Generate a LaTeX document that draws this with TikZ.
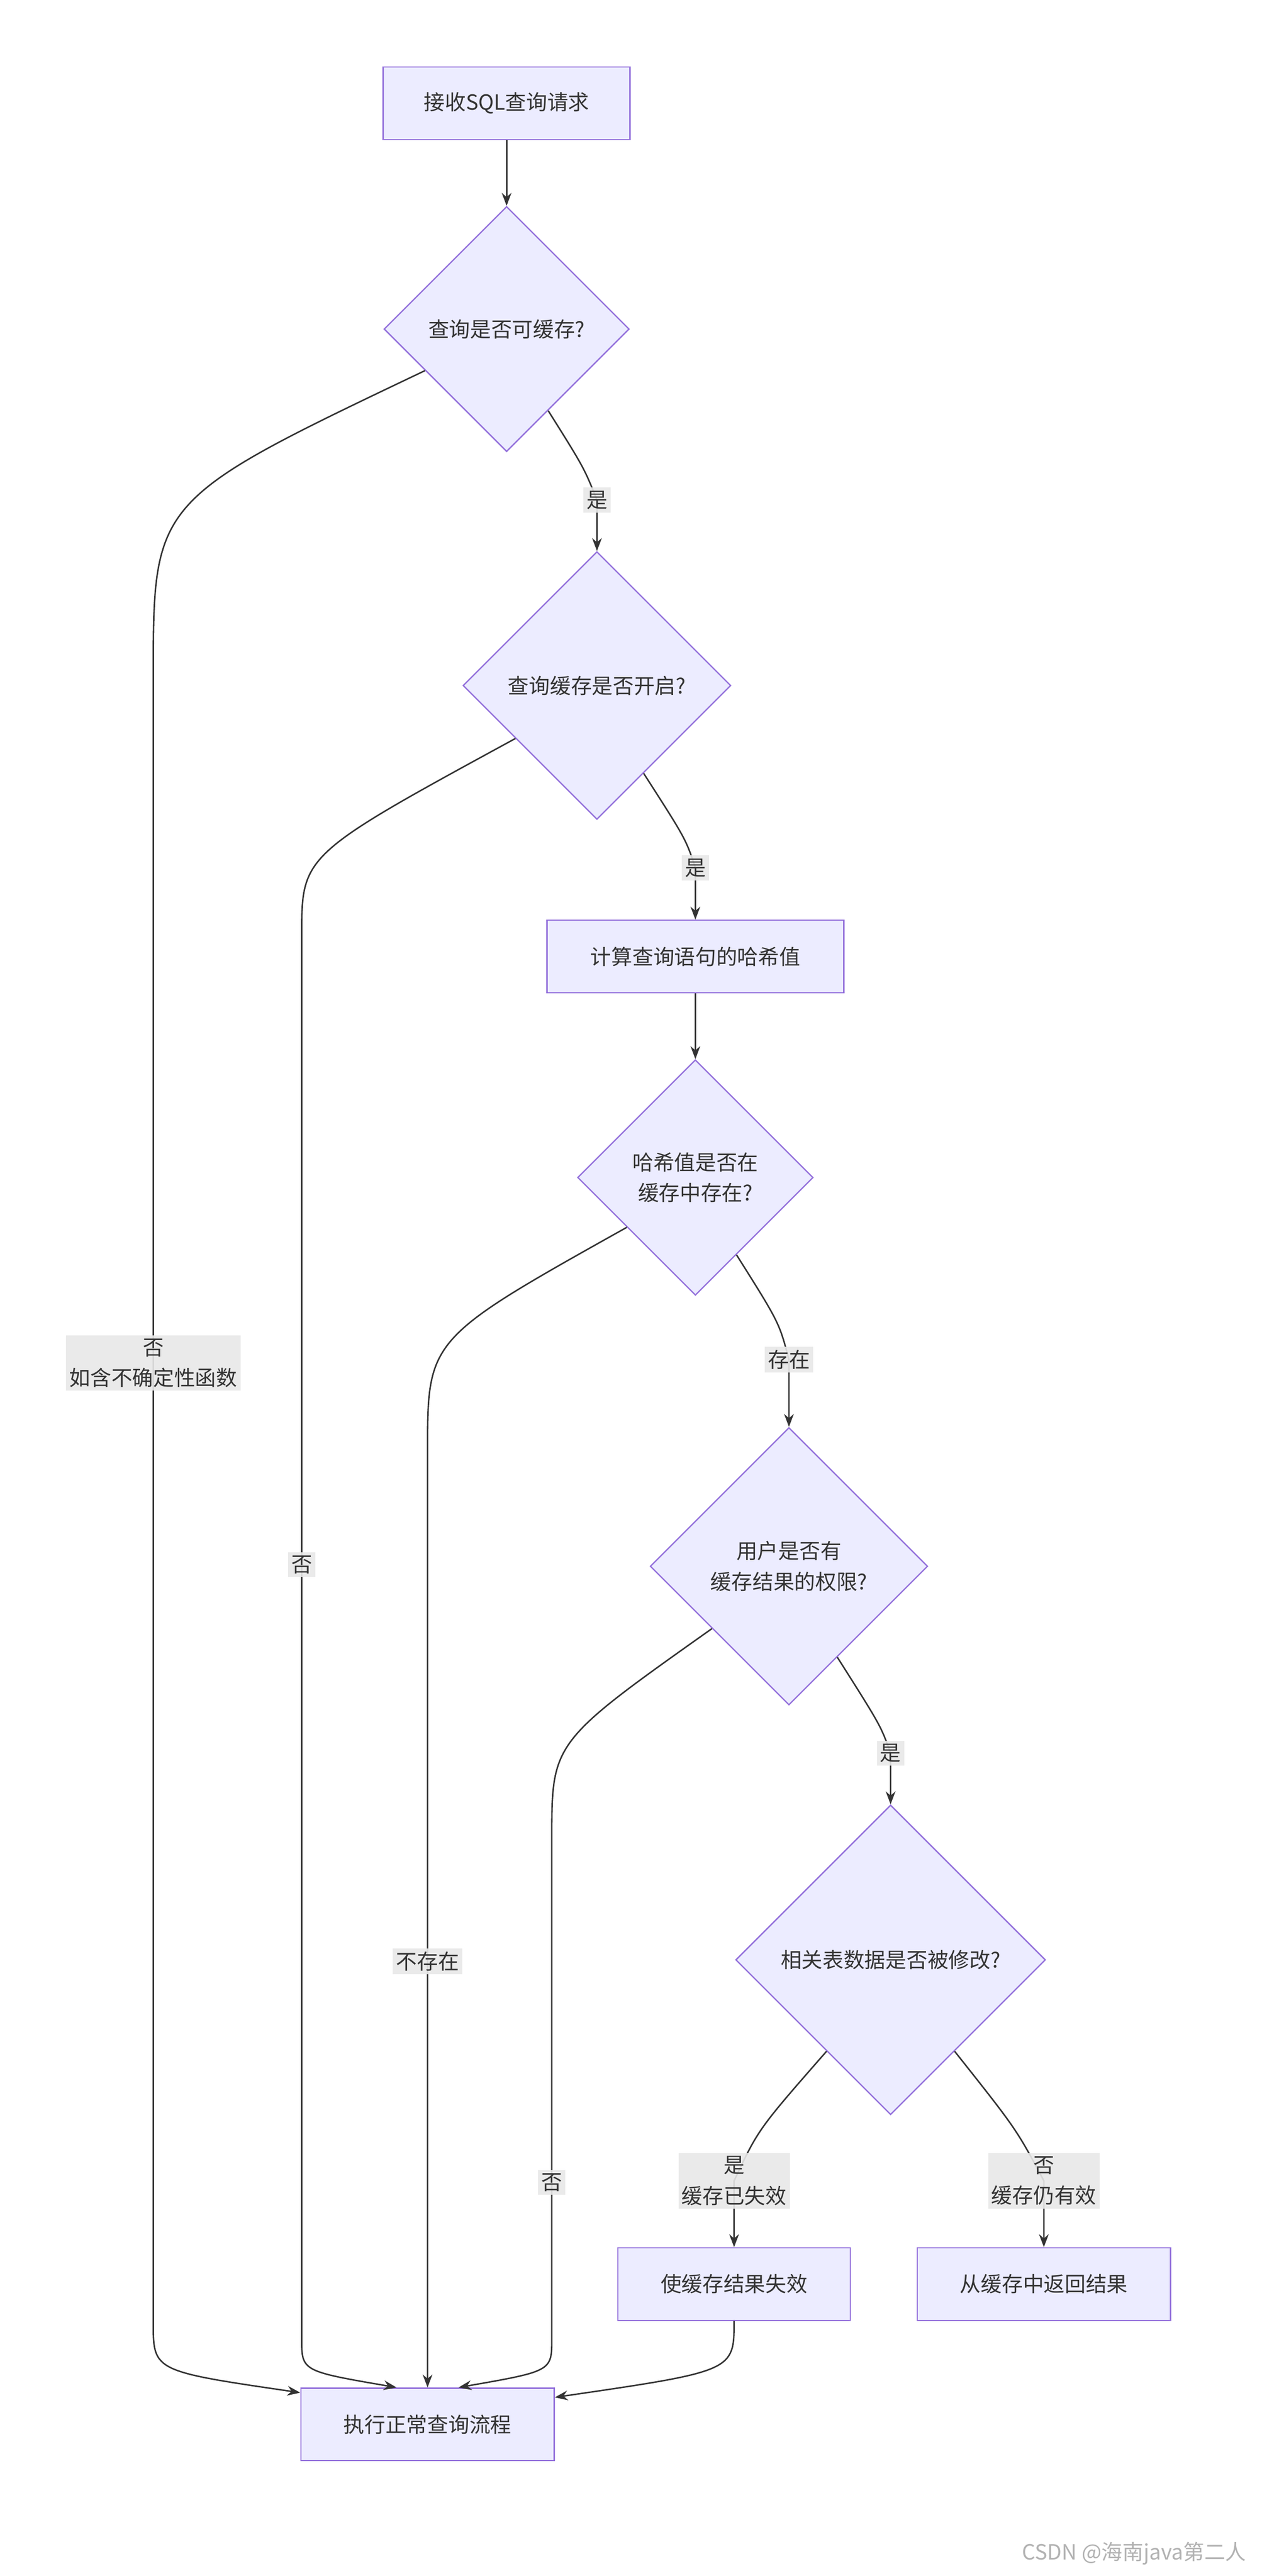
\documentclass[tikz,border=0pt]{standalone}
\usepackage{fontspec}
\setmainfont{Noto Sans CJK SC}
\usetikzlibrary{shapes.geometric,arrows.meta}
\definecolor{nfill}{HTML}{ECECFF}
\definecolor{nline}{HTML}{9370DB}
\definecolor{eline}{HTML}{333333}
\definecolor{lbg}{HTML}{E8E8E8}
\begin{document}
\begin{tikzpicture}[x=1pt,y=-1pt,
  every node/.style={font=\fontsize{13}{19}\selectfont, text=eline},
  box/.style={draw=nline, fill=nfill, line width=0.8pt, rectangle, inner sep=0pt},
  dia/.style={draw=nline, fill=nfill, line width=0.8pt, diamond, inner sep=0pt, align=center},
  edge/.style={draw=eline, line width=0.9pt, -{Stealth[length=8pt,width=6pt]}},
  lbl/.style={fill=lbg, fill opacity=0.9, text opacity=1, inner sep=2pt, align=center}]
\useasboundingbox (0,0) rectangle (782,1597);
\fill[white] (0,0) rectangle (782,1597);

\node[box, minimum width=153pt, minimum height=45pt] (A) at (314,64) {接收SQL查询请求};
\node[dia, minimum width=152pt, minimum height=152pt] (D1) at (314,204) {查询是否可缓存?};
\node[dia, minimum width=166pt, minimum height=166pt] (D2) at (370,425) {查询缓存是否开启?};
\node[box, minimum width=184pt, minimum height=45pt] (B) at (431,593) {计算查询语句的哈希值};
\node[dia, minimum width=146pt, minimum height=146pt] (D3) at (431,730) {哈希值是否在\\缓存中存在?};
\node[dia, minimum width=172pt, minimum height=172pt] (D4) at (489,971) {用户是否有\\缓存结果的权限?};
\node[dia, minimum width=192pt, minimum height=192pt] (D5) at (552,1215) {相关表数据是否被修改?};
\node[box, minimum width=144pt, minimum height=45pt] (C) at (455,1416) {使缓存结果失效};
\node[box, minimum width=157pt, minimum height=45pt] (E) at (647,1416) {从缓存中返回结果};
\node[box, minimum width=157pt, minimum height=45pt] (F) at (265,1503) {执行正常查询流程};

\draw[edge] (A) -- (D1);
\draw[edge] (D1.297) .. controls (362,290) .. (370,310) node[lbl]{是} -- (D2.north);
\draw[edge] (D1.207) .. controls (95,310) .. (95,420) -- (95,845) node[lbl]{否\\如含不确定性函数} -- (95,1440) .. controls (95,1470) .. (F.166);
\draw[edge] (D2.298) .. controls (425,520) .. (431,538) node[lbl]{是} -- (B.north);
\draw[edge] (D2.213) .. controls (187,530) .. (187,580) -- (187,970) node[lbl]{否} -- (187,1450) .. controls (187,1470) .. (F.130);
\draw[edge] (B) -- (D3);
\draw[edge] (D3.298) .. controls (483,820) .. (489,843) node[lbl]{存在} -- (D4.north);
\draw[edge] (D3.216) .. controls (265,830) .. (265,900) -- (265,1216) node[lbl]{不存在} -- (F.north);
\draw[edge] (D4.298) .. controls (546,1070) .. (552,1087) node[lbl]{是} -- (D5.north);
\draw[edge] (D4.219) .. controls (342,1080) .. (342,1140) -- (342,1353) node[lbl]{否} -- (342,1450) .. controls (342,1470) .. (F.50);
\draw[edge] (D5.235) .. controls (470,1320) .. (455,1352) node[lbl]{是\\缓存已失效} -- (C.north);
\draw[edge] (D5.305) .. controls (630,1320) .. (647,1352) node[lbl]{否\\缓存仍有效} -- (E.north);
\draw[edge] (C.south) .. controls (455,1470) .. (F.12);

\node[text=gray!60, font=\fontsize{13}{15}\selectfont, anchor=east] (W) at (776,1583) {CSDN @海南java第二人};
\end{tikzpicture}
\end{document}
